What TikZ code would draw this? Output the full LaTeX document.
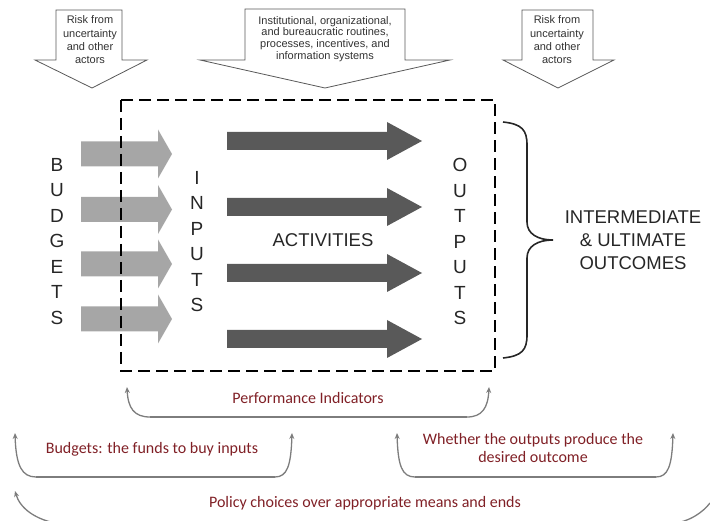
\documentclass[tikz,border=0pt]{standalone}
\usepackage{fontspec}
\setmainfont{Liberation Sans}
\newfontfamily\carl{Carlito}
\usetikzlibrary{arrows.meta}
\definecolor{lightarr}{RGB}{166,166,166}
\definecolor{darkarr}{RGB}{89,89,89}
\definecolor{fbred}{RGB}{128,32,38}
\definecolor{fbgray}{RGB}{125,125,125}
\begin{document}
\begin{tikzpicture}[x=1pt,y=-1pt,
  blockarrow/.style={draw=black!65, line width=0.8pt, fill=white, line join=miter},
  toptext/.style={font=\fontsize{11}{13.3}\selectfont, align=center, text=black!80, inner sep=0},
  midtext/.style={font=\fontsize{11}{11.8}\selectfont, align=center, text=black!80, inner sep=0},
  lightarrow/.style={fill=lightarr},
  darkarrow/.style={fill=darkarr},
  stack/.style={font=\fontsize{19}{25.5}\selectfont, align=center, inner sep=0, text=black!85},
  bigtext/.style={font=\fontsize{18.5}{23}\selectfont, align=center, inner sep=0, text=black!85},
  fb/.style={draw=fbgray, line width=1.3pt},
  fbtip/.style={-{Stealth[length=6pt,width=5pt]}},
  fbtext/.style={font=\carl\fontsize{16}{17.5}\selectfont, text=fbred, align=center, inner sep=0},
  dashbox/.style={draw=black, line width=2.2pt, dash pattern=on 12pt off 6pt}]
\useasboundingbox (0,0) rectangle (710,521);
\clip (0,0) rectangle (710,521);

% top block arrows
\draw[blockarrow] (56,10) -- (122,10) -- (122,60) -- (147,60) -- (92,88) -- (35,60) -- (56,60) -- cycle;
\draw[blockarrow] (245,9) -- (405,9) -- (405,60) -- (450,60) -- (325,88) -- (200,60) -- (245,60) -- cycle;
\draw[blockarrow] (522,10) -- (593,10) -- (593,60) -- (614,60) -- (558,88) -- (503,60) -- (522,60) -- cycle;
\node[toptext] (riskL) at (90,40) {Risk from\\uncertainty\\and other\\actors};
\node[midtext] (inst) at (325,39) {Institutional, organizational,\\and bureaucratic routines,\\processes, incentives, and\\information systems};
\node[toptext] (riskR) at (557,40) {Risk from\\uncertainty\\and other\\actors};

% light gray arrows (budgets -> inputs)
\foreach \c in {154,209.5,264,319}{
  \fill[lightarrow] (81,\c-12.5) -- (158,\c-12.5) -- (158,\c-24.5) -- (172,\c) -- (158,\c+24.5) -- (158,\c+12.5) -- (81,\c+12.5) -- cycle;
}
% dark arrows (activities)
\foreach \c in {141,207,273,339}{
  \fill[darkarrow] (227,\c-9) -- (387,\c-9) -- (387,\c-19) -- (422,\c) -- (387,\c+19) -- (387,\c+9) -- (227,\c+9) -- cycle;
}

% dashed box
\draw[dashbox] (121,100) rectangle (495,371);

% letter stacks
\node[stack] (budgets) at (57,241.5) {B\\U\\D\\G\\E\\T\\S};
\node[stack] (inputs) at (197,241.5) {I\\N\\P\\U\\T\\S};
\node[stack] (outputs) at (460,241.5) {O\\U\\T\\P\\U\\T\\S};
\node[bigtext] (activities) at (323,240) {ACTIVITIES};
\node[bigtext] (outcomes) at (633,240) {INTERMEDIATE\\\& ULTIMATE\\OUTCOMES};

% brace
\draw[line width=1.6pt, black!85] (503,122) .. controls (522,124) and (527,130) .. (527,145)
  -- (527,222) .. controls (527,234) and (538,240) .. (553,240)
  .. controls (538,240) and (527,246) .. (527,258)
  -- (527,335) .. controls (527,350) and (522,356) .. (503,358);

% feedback brackets
\coordinate (piL) at (127,387);
\coordinate (piR) at (489,387);
\draw[fb,fbtip] (150,417) .. controls (134,417) and (128,408) .. (piL);
\draw[fb] (150,417) -- (467,417);
\draw[fb,fbtip] (467,417) .. controls (482,417) and (488,408) .. (piR);
\node[fbtext] (perf) at (308,398) {Performance Indicators};

\coordinate (bL) at (15,433);
\coordinate (bR) at (292,433);
\draw[fb,fbtip] (36,477) .. controls (22,477) and (16,466) .. (bL);
\draw[fb] (36,477) -- (275,477);
\draw[fb,fbtip] (275,477) .. controls (287,477) and (291,466) .. (bR);
\node[fbtext] (budg) at (152,449) {Budgets: the funds to buy inputs};

\coordinate (wL) at (397,433);
\coordinate (wR) at (673,433);
\draw[fb,fbtip] (415,477) .. controls (402,477) and (398,466) .. (wL);
\draw[fb] (415,477) -- (656,477);
\draw[fb,fbtip] (656,477) .. controls (668,477) and (672,466) .. (wR);
\node[fbtext] (whether) at (533,448) {Whether the outputs produce the\\desired outcome};

\coordinate (pL) at (15,491);
\coordinate (pR) at (710,503);
\draw[fb,fbtip] (60,524) .. controls (35,520) and (20,508) .. (pL);
\draw[fb] (60,524) -- (670,524) .. controls (690,522) and (703,512) .. (pR);
\node[fbtext] (policy) at (365,503) {Policy choices over appropriate means and ends};
\end{tikzpicture}
\end{document}
